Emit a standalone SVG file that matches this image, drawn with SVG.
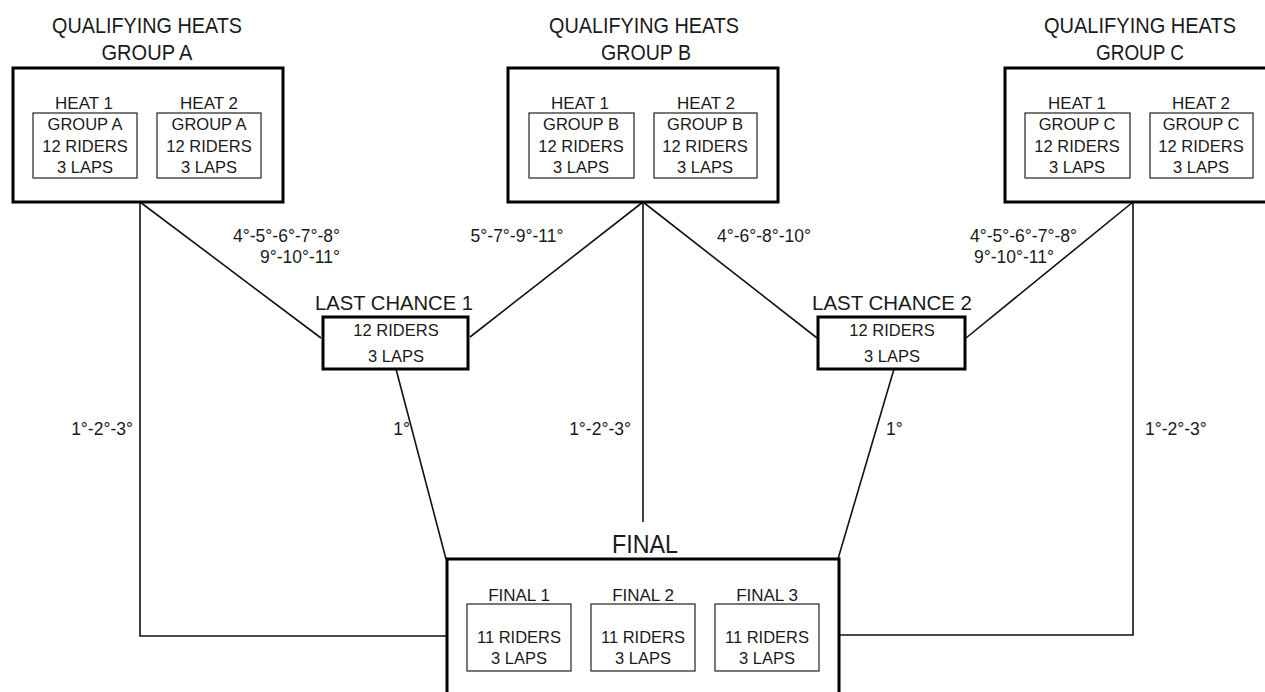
<svg xmlns="http://www.w3.org/2000/svg" width="1265" height="692" viewBox="0 0 1265 692">
<style>
text{font-family:"Liberation Sans","DejaVu Sans",Arial,sans-serif;fill:#1a1a1a;text-anchor:middle}
.title{font-size:21.5px}
.big{font-size:25px}
.lc{font-size:21px}
.lbl{font-size:17px}
.in{font-size:16.5px}
.edge{font-size:17.5px}
.outer{fill:#fff;stroke:#000;stroke-width:3}
.inner{fill:#fff;stroke:#222;stroke-width:1.2}
.conn{fill:none;stroke:#111;stroke-width:1.6}
</style>
<rect width="1265" height="692" fill="#fff"/>
<g id="connectors">
<path class="conn" d="M140,202 L321,338"/>
<path class="conn" d="M140,202 L140,636 L447,636"/>
<path class="conn" d="M643,202 L470,337"/>
<path class="conn" d="M643,202 L643,522"/>
<path class="conn" d="M643,202 L817,338"/>
<path class="conn" d="M1133,202 L966,338"/>
<path class="conn" d="M1133,202 L1133,635 L839,635"/>
<path class="conn" d="M396,369 L446,559"/>
<path class="conn" d="M894,369 L838,559"/>
<text class="edge" x="340" y="242" style="text-anchor:end">4°-5°-6°-7°-8°</text>
<text class="edge" x="340" y="263" style="text-anchor:end">9°-10°-11°</text>
<text class="edge" x="517" y="242">5°-7°-9°-11°</text>
<text class="edge" x="764" y="242">4°-6°-8°-10°</text>
<text class="edge" x="970" y="242" style="text-anchor:start">4°-5°-6°-7°-8°</text>
<text class="edge" x="974" y="263" style="text-anchor:start">9°-10°-11°</text>
<text class="edge" x="133" y="435" style="text-anchor:end">1°-2°-3°</text>
<text class="edge" x="410" y="435" style="text-anchor:end">1°</text>
<text class="edge" x="631" y="435" style="text-anchor:end">1°-2°-3°</text>
<text class="edge" x="886" y="435" style="text-anchor:start">1°</text>
<text class="edge" x="1145" y="435" style="text-anchor:start">1°-2°-3°</text>
</g>
<g id="group-a">
<text class="title" x="147" y="33" textLength="190" lengthAdjust="spacingAndGlyphs">QUALIFYING HEATS</text>
<text class="title" x="147" y="60" textLength="91" lengthAdjust="spacingAndGlyphs">GROUP A</text>
<rect class="outer" x="13" y="68" width="270" height="134"/>
<text class="lbl" x="84" y="109">HEAT 1</text>
<text class="lbl" x="209" y="109">HEAT 2</text>
<rect class="inner" x="33" y="113" width="104" height="65"/>
<rect class="inner" x="157" y="113" width="104" height="65"/>
<text class="in" x="85" y="130">GROUP A</text>
<text class="in" x="85" y="152">12 RIDERS</text>
<text class="in" x="85" y="173">3 LAPS</text>
<text class="in" x="209" y="130">GROUP A</text>
<text class="in" x="209" y="152">12 RIDERS</text>
<text class="in" x="209" y="173">3 LAPS</text>
</g>
<g id="group-b">
<text class="title" x="644" y="33" textLength="190" lengthAdjust="spacingAndGlyphs">QUALIFYING HEATS</text>
<text class="title" x="646" y="60" textLength="90" lengthAdjust="spacingAndGlyphs">GROUP B</text>
<rect class="outer" x="508" y="68" width="270" height="134"/>
<text class="lbl" x="580" y="109">HEAT 1</text>
<text class="lbl" x="706" y="109">HEAT 2</text>
<rect class="inner" x="529" y="113" width="105" height="65"/>
<rect class="inner" x="654" y="113" width="103" height="65"/>
<text class="in" x="581" y="130">GROUP B</text>
<text class="in" x="581" y="152">12 RIDERS</text>
<text class="in" x="581" y="173">3 LAPS</text>
<text class="in" x="705" y="130">GROUP B</text>
<text class="in" x="705" y="152">12 RIDERS</text>
<text class="in" x="705" y="173">3 LAPS</text>
</g>
<g id="group-c">
<text class="title" x="1140" y="33" textLength="192" lengthAdjust="spacingAndGlyphs">QUALIFYING HEATS</text>
<text class="title" x="1140" y="60" textLength="88" lengthAdjust="spacingAndGlyphs">GROUP C</text>
<rect class="outer" x="1005" y="68" width="264" height="134"/>
<text class="lbl" x="1077" y="109">HEAT 1</text>
<text class="lbl" x="1201" y="109">HEAT 2</text>
<rect class="inner" x="1025" y="113" width="105" height="65"/>
<rect class="inner" x="1150" y="113" width="103" height="65"/>
<text class="in" x="1077" y="130">GROUP C</text>
<text class="in" x="1077" y="152">12 RIDERS</text>
<text class="in" x="1077" y="173">3 LAPS</text>
<text class="in" x="1201" y="130">GROUP C</text>
<text class="in" x="1201" y="152">12 RIDERS</text>
<text class="in" x="1201" y="173">3 LAPS</text>
</g>
<g id="last-chance-1">
<text class="lc" x="394" y="310" textLength="158" lengthAdjust="spacingAndGlyphs">LAST CHANCE 1</text>
<rect class="outer" x="323" y="317" width="145" height="52"/>
<text class="in" x="396" y="336">12 RIDERS</text>
<text class="in" x="396" y="362">3 LAPS</text>
</g>
<g id="last-chance-2">
<text class="lc" x="892" y="310" textLength="160" lengthAdjust="spacingAndGlyphs">LAST CHANCE 2</text>
<rect class="outer" x="818" y="317" width="147" height="52"/>
<text class="in" x="892" y="336">12 RIDERS</text>
<text class="in" x="892" y="362">3 LAPS</text>
</g>
<g id="final">
<text class="big" x="645" y="553" textLength="66" lengthAdjust="spacingAndGlyphs">FINAL</text>
<rect class="outer" x="447" y="559" width="392" height="150"/>
<text class="lbl" x="519" y="601">FINAL 1</text>
<text class="lbl" x="643" y="601">FINAL 2</text>
<text class="lbl" x="767" y="601">FINAL 3</text>
<rect class="inner" x="467" y="604" width="104" height="67"/>
<rect class="inner" x="591" y="604" width="104" height="67"/>
<rect class="inner" x="715" y="604" width="104" height="67"/>
<text class="in" x="519" y="643">11 RIDERS</text>
<text class="in" x="519" y="664">3 LAPS</text>
<text class="in" x="643" y="643">11 RIDERS</text>
<text class="in" x="643" y="664">3 LAPS</text>
<text class="in" x="767" y="643">11 RIDERS</text>
<text class="in" x="767" y="664">3 LAPS</text>
</g>
</svg>
